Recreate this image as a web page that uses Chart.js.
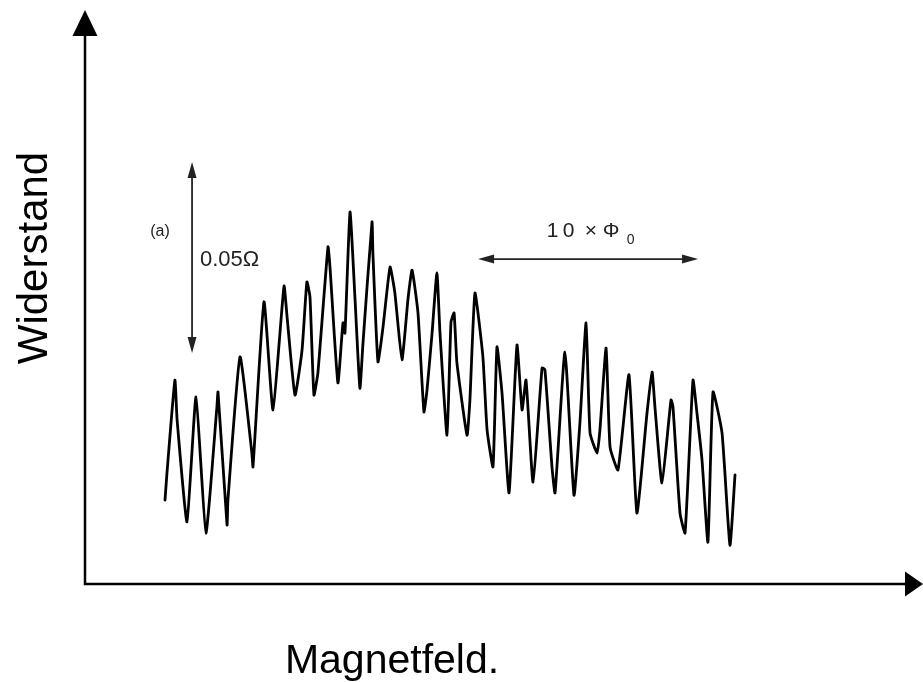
<!DOCTYPE html>
<html>
<head>
<meta charset="utf-8">
<script src="https://cdn.jsdelivr.net/npm/chart.js@4/dist/chart.umd.min.js"></script>
<style>
  body { margin: 0; background: #fff; }
  #wrap { width: 923px; height: 682px; }
</style>
</head>
<body>
<div id="wrap"><canvas id="kurve" width="923" height="682"></canvas></div>
<script>
// Magnetfeld in Einheiten von Phi0 (Flussquant), Widerstand in mOhm (relativ)
const feld = [
  0.00, 0.09, 0.45, 0.55, 1.00, 1.41, 1.86, 2.36, 2.41, 2.82, 2.86, 3.41, 3.95, 4.00,
  4.50, 4.91, 5.41, 5.55, 5.91, 6.23, 6.45, 6.59, 6.77, 6.95, 7.41, 7.50, 7.86, 8.09,
  8.18, 8.41, 8.64, 8.86, 9.00, 9.41, 9.45, 9.68, 9.91, 10.23, 10.45, 10.77, 11.05, 11.23,
  11.50, 11.77, 11.91, 12.14, 12.36, 12.50, 12.82, 13.00, 13.14, 13.27, 13.73, 13.86, 14.09, 14.45,
  14.64, 14.91, 15.09, 15.32, 15.64, 16.00, 16.23, 16.41, 16.73, 17.14, 17.27, 17.59, 17.73, 18.18,
  18.59, 18.86, 19.14, 19.32, 19.64, 19.77, 20.05, 20.23, 20.59, 21.09, 21.45, 21.91, 22.14, 22.27,
  22.59, 23.00, 23.09, 23.41, 23.64, 24.00, 24.18, 24.41, 24.68, 24.91, 25.32, 25.68, 25.91
];
const widerstand = [
  21.7, 28.8, 53.1, 42.7, 16.0, 48.7, 13.1, 46.1, 50.0, 15.2, 21.7, 59.2, 34.0, 30.4,
  73.6, 45.3, 77.7, 69.6, 49.2, 61.0, 78.8, 74.9, 49.2, 55.0, 88.0, 82.7, 52.4, 68.1,
  65.4, 97.1, 74.1, 51.0, 62.8, 94.5, 86.4, 57.9, 67.0, 82.7, 75.9, 58.4, 74.6, 81.9,
  70.7, 44.8, 50.5, 65.4, 81.2, 65.4, 38.7, 68.3, 70.7, 57.6, 38.7, 47.9, 75.9, 59.2,
  40.1, 30.4, 61.8, 49.7, 23.6, 62.3, 45.3, 53.1, 26.4, 56.3, 55.8, 30.4, 23.6, 60.5,
  23.0, 41.9, 68.1, 39.3, 34.0, 40.1, 61.5, 35.6, 29.6, 54.5, 18.3, 44.5, 55.2, 46.1,
  26.2, 47.9, 46.1, 18.3, 13.1, 53.1, 44.5, 32.2, 10.7, 50.0, 39.3, 9.9, 28.3
];

const schrift = '"Liberation Sans", Arial, sans-serif';

function pfeilspitze(ctx, x, y, winkel, laenge, breite) {
  ctx.save();
  ctx.translate(x, y);
  ctx.rotate(winkel);
  ctx.beginPath();
  ctx.moveTo(0, 0);
  ctx.lineTo(-laenge, -breite / 2);
  ctx.lineTo(-laenge, breite / 2);
  ctx.closePath();
  ctx.fill();
  ctx.restore();
}

const achsenPlugin = {
  id: 'achsen',
  afterDraw(chart) {
    const { ctx, chartArea: ca, scales: { x, y } } = chart;
    ctx.save();
    ctx.strokeStyle = '#000';
    ctx.fillStyle = '#000';
    ctx.lineWidth = 2.5;
    ctx.beginPath();
    ctx.moveTo(ca.left, ca.top + 20);
    ctx.lineTo(ca.left, ca.bottom);
    ctx.lineTo(ca.right - 15, ca.bottom);
    ctx.stroke();
    pfeilspitze(ctx, ca.left, ca.top, -Math.PI / 2, 26, 25);
    pfeilspitze(ctx, ca.right, ca.bottom, 0, 18, 25);

    // Achsenbeschriftungen
    ctx.textAlign = 'center';
    ctx.textBaseline = 'alphabetic';
    ctx.font = '41px ' + schrift;
    ctx.fillText('Magnetfeld.', 392, 673);
    ctx.save();
    ctx.translate(47, 258);
    ctx.rotate(-Math.PI / 2);
    ctx.font = '42px ' + schrift;
    ctx.fillText('Widerstand', 0, 0);
    ctx.restore();

    // Massstab 0.05 Ohm
    ctx.strokeStyle = '#222';
    ctx.fillStyle = '#222';
    ctx.lineWidth = 1.8;
    const vx = x.getPixelForValue(1.23);
    const vOben = y.getPixelForValue(110.2);
    const vUnten = y.getPixelForValue(60.2);
    ctx.beginPath();
    ctx.moveTo(vx, vOben + 8);
    ctx.lineTo(vx, vUnten - 8);
    ctx.stroke();
    pfeilspitze(ctx, vx, vOben, -Math.PI / 2, 16, 9);
    pfeilspitze(ctx, vx, vUnten, Math.PI / 2, 16, 9);

    // Massstab 10 x Phi0
    const hy = y.getPixelForValue(84.8);
    const hLinks = x.getPixelForValue(14.23);
    const hRechts = x.getPixelForValue(24.23);
    ctx.beginPath();
    ctx.moveTo(hLinks + 8, hy);
    ctx.lineTo(hRechts - 8, hy);
    ctx.stroke();
    pfeilspitze(ctx, hLinks, hy, Math.PI, 16, 9);
    pfeilspitze(ctx, hRechts, hy, 0, 16, 9);

    ctx.textBaseline = 'middle';
    ctx.font = '16px ' + schrift;
    ctx.fillText('(a)', x.getPixelForValue(-0.23), y.getPixelForValue(91.9));
    ctx.textAlign = 'left';
    ctx.font = '22px ' + schrift;
    ctx.fillText('0.05Ω', x.getPixelForValue(1.59), y.getPixelForValue(84.6));

    ctx.font = '21px ' + schrift;
    const tx = x.getPixelForValue(17.35);
    const ty = y.getPixelForValue(92.1);
    ctx.fillText('1', tx, ty);
    ctx.fillText('0', tx + 16, ty);
    ctx.fillText('×', tx + 38, ty);
    ctx.fillText('Φ', tx + 56, ty);
    ctx.font = '14px ' + schrift;
    ctx.fillText('0', tx + 80, ty + 9);
    ctx.restore();
  }
};

const punkte = feld.map((f, i) => ({ x: f, y: widerstand[i] }));

new Chart(document.getElementById('kurve'), {
  type: 'line',
  data: {
    datasets: [{
      data: punkte,
      borderColor: '#000',
      borderWidth: 2.8,
      borderJoinStyle: 'round',
      borderCapStyle: 'round',
      pointRadius: 0,
      tension: 0.15,
      fill: false
    }]
  },
  options: {
    responsive: false,
    animation: false,
    layout: { padding: { left: 85, right: 0, top: 10, bottom: 98 } },
    plugins: { legend: { display: false }, tooltip: { enabled: false } },
    scales: {
      x: { type: 'linear', display: false, min: -3.636, max: 34.455 },
      y: { type: 'linear', display: false, min: -0.26, max: 150.0 }
    }
  },
  plugins: [achsenPlugin]
});
</script>
</body>
</html>
